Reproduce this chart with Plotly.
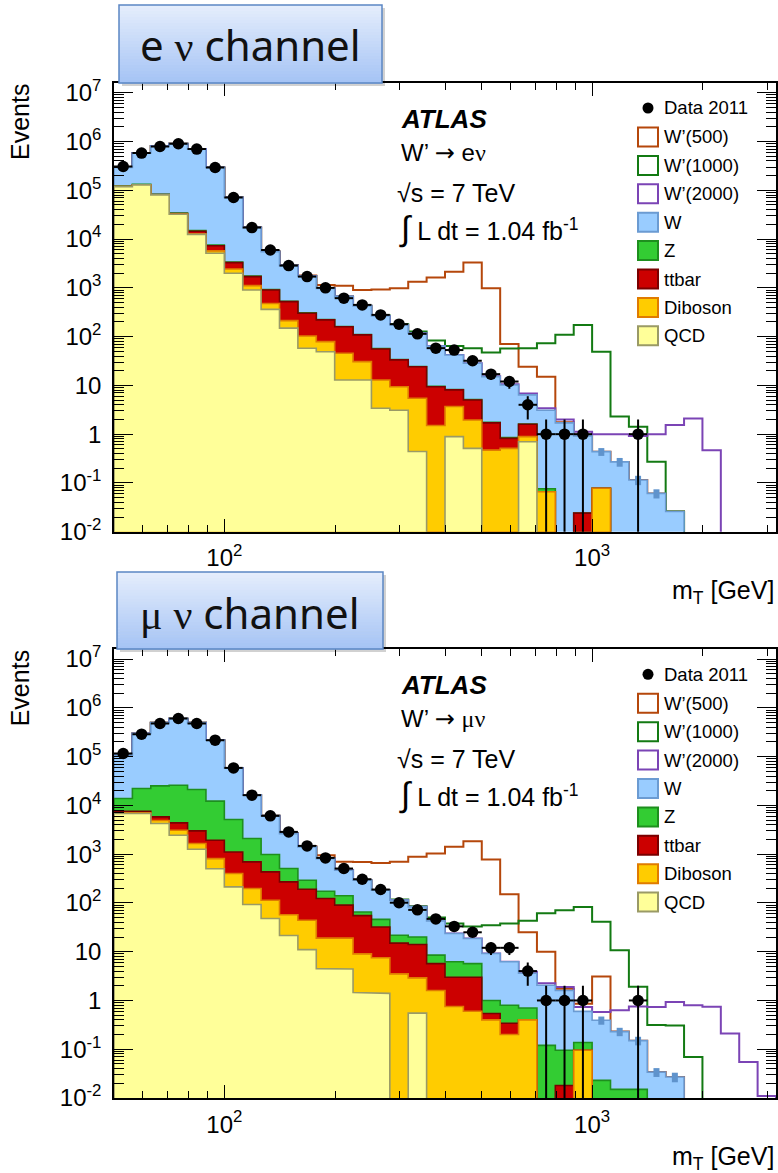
import numpy as np
import plotly.graph_objects as go

# ---------------------------------------------------------------------------
# Binning: log10 of the m_T bin edges (GeV)
MT_LOG_EDGES = [1.70, 1.75, 1.80, 1.85, 1.90, 1.95, 2.00, 2.05, 2.10, 2.15,
                2.20, 2.25, 2.30, 2.35, 2.40, 2.45, 2.50, 2.55, 2.60, 2.65,
                2.70, 2.75, 2.80, 2.85, 2.90, 2.95, 3.00, 3.05, 3.10, 3.15,
                3.20, 3.25, 3.30, 3.35, 3.40, 3.45, 3.50]

# ---------------------------------------------------------------------------
# e nu channel: events per bin
EV_DATA = [307000, 580000, 790000, 900000, 700000, 293000, 71000, 17200, 5980, 2860,
           1700, 1000, 614, 447, 279, 180, 114, 58, 53, 32,
           17, 12, 4, 1, 1, 1, 0, 0, 1, 0, 0, 0, 0, 0, 0, 0]
EV_QCD = [119000, 129000, 80500, 32300, 12500, 5120, 1990, 903, 362, 149,
          57.8, 49, 12.9, 12.9, 3.4, 3.1, 0.44, 0, 0.89, 0.51,
          0, 0, 0.70, 0, 0, 0, 0, 0, 0, 0, 0, 0, 0, 0, 0, 0]
EV_DIBOSON = [500, 500, 500, 300, 300, 600, 450, 207, 117, 64,
              45, 30, 32.8, 17.8, 9.5, 6.3, 5.0, 1.5, 2.8, 1.44,
              0.47, 0.51, 0.19, 0.066, 0, 0, 0.078, 0, 0, 0, 0, 0, 0, 0, 0, 0]
EV_TTBAR = [500, 500, 500, 800, 1700, 1600, 850, 590, 424, 309,
            199, 141, 114, 78, 43, 24, 18.6, 7.9, 4.4, 3.05,
            1.23, 0.31, 0.71, 0, 0, 0.024, 0, 0, 0, 0, 0, 0, 0, 0, 0, 0]
EV_Z = [1500, 2500, 1500, 900, 400, 200, 80, 35, 15, 8,
        5, 3, 2, 1.2, 0.8, 0.5, 0.3, 0.2, 0.15, 0.1,
        0.05, 0.03, 0.02, 0.01, 0, 0, 0, 0, 0, 0, 0, 0, 0, 0, 0, 0]
EV_W = [171500, 447500, 727000, 865700, 684900, 285500, 67600, 15460, 4610, 2330,
        1443, 754, 500, 317, 209, 140, 92.7, 54.4, 33.8, 23.3,
        13.4, 9.35, 4.78, 3.02, 1.7, 0.9, 0.36, 0.27, 0.115, 0.061,
        0.026, 0, 0, 0, 0, 0]
# MC statistical uncertainty on W, shown where it is visible
EV_W_STAT = [0, 0, 0, 0, 0, 0, 0, 0, 0, 0,
             0, 0, 0, 0, 0, 0, 0, 0, 0, 0,
             0, 0, 0, 0, 0, 0, 0.08, 0.055, 0.025, 0.013,
             0, 0, 0, 0, 0, 0]
# W' signals (stacked on top of the total background)
EV_WP500 = [0, 0, 0, 0, 0, 5, 10, 15, 20, 30,
            50, 173, 438, 473, 664, 810, 1223, 1556, 2108, 3272,
            969, 60, 17.6, 11.9, 0.05, 0, 0, 0, 0, 0, 0, 0, 0, 0, 0, 0]
EV_WP1000 = [0, 0, 0, 0, 0, 0, 0, 0, 0, 0,
             0, 0, 2, 3, 4, 6, 10, 19, 22, 29.6,
             31.9, 46.8, 51.6, 69.9, 108, 173, 48.6, 2.03, 1.3, 0.21,
             0, 0, 0, 0, 0, 0]
EV_WP2000 = [0, 0, 0, 0, 0, 0, 0, 0, 0, 0,
             0, 0, 0, 0, 0, 0, 0, 0, 0.1, 0.15,
             0.3, 0.35, 0.4, 0.3, 0.3, 0.2, 0.56, 0.73, 0.8, 0.94,
             1.52, 2.1, 0.47, 0, 0, 0]

# ---------------------------------------------------------------------------
# mu nu channel: events per bin
MV_DATA = [116000, 288000, 478000, 604000, 478000, 217000, 58700, 16200, 6100, 2860,
           1476, 838, 507, 306, 188, 101, 72, 47, 33, 25,
           12, 12, 4, 1, 1, 1, 0, 0, 1, 0, 0, 0, 0, 0, 0, 0]
MV_QCD = [6800, 6800, 4240, 2440, 1260, 500, 213, 93, 48, 21.5,
          11, 4.5, 4.4, 1.45, 1.4, 0, 0.55, 0, 0, 0,
          0, 0, 0, 0, 0, 0, 0, 0, 0, 0, 0, 0, 0, 0, 0, 0]
MV_DIBOSON = [200, 200, 660, 650, 390, 311, 187, 104, 65, 35.5,
              33, 14.5, 14.6, 7.55, 6.1, 3.5, 2.35, 1.6, 0.75, 0.6,
              0.4, 0.2, 0.4, 0, 0, 0.095, 0, 0, 0, 0, 0, 0, 0, 0, 0, 0]
MV_TTBAR = [590, 600, 910, 1280, 1350, 1119, 710, 496, 320, 213,
            147, 104, 71, 46, 24.5, 11.5, 11.1, 4.1, 2.25, 2.4,
            0.14, 0.14, 0, 0, 0.018, 0, 0, 0, 0, 0, 0, 0, 0, 0, 0, 0]
MV_Z = [6210, 14500, 19290, 21530, 18100, 10270, 4010, 1397, 547, 236,
        101, 50, 50, 10, 14, 6.7, 6, 2.8, 3.2, 2.7,
        0.46, 0.46, 0.3, 0.12, 0.077, 0.042, 0.023, 0.015, 0.015, 0,
        0, 0, 0, 0, 0, 0]
MV_W = [93200, 274900, 466900, 574100, 470900, 204800, 53580, 14110, 5120, 2134,
        1118, 638, 329, 227, 136, 92.3, 63, 34.3, 17.4, 12.9,
        8.2, 5.4, 2.9, 1.93, 1.5, 0.46, 0.37, 0.215, 0.135, 0.034,
        0.027, 0, 0, 0, 0, 0]
MV_W_STAT = [0, 0, 0, 0, 0, 0, 0, 0, 0, 0,
             0, 0, 0, 0, 0, 0, 0, 0, 0, 0,
             0, 0, 0, 0, 0, 0, 0.075, 0.045, 0.03, 0.007,
             0.006, 0, 0, 0, 0, 0]
MV_WP500 = [0, 0, 0, 0, 0, 5, 10, 15, 20, 30,
            40, 139, 231, 398, 478, 581, 797, 987, 1386, 1821,
            771, 144, 21.4, 7.95, 0.15, 0.26, 2.71, 0, 0, 0, 0, 0, 0, 0, 0, 0]
MV_WP1000 = [0, 0, 0, 0, 0, 0, 0, 0, 0, 0,
             0, 0, 0, 0, 0, 3, 2, 7.2, 14.4, 14.4,
             25.8, 31.8, 39.4, 59, 69.4, 82.3, 40.6, 10.5, 1.75, 0.28,
             0.28, 0.069, 0, 0, 0, 0]
MV_WP2000 = [0, 0, 0, 0, 0, 0, 0, 0, 0, 0,
             0, 0, 0, 0, 0, 0, 0, 0, 0, 0,
             0, 0, 0.3, 0.2, 0.3, 0.14, 0.19, 0.4, 0.6, 0.7,
             0.9, 0.8, 0.74, 0.21, 0.055, 0.011]

# ---------------------------------------------------------------------------
# Styling
C_W, C_W_LINE, C_W_ERR = "#99ccff", "#6b9bd2", "#5f93cc"
C_Z, C_Z_LINE = "#33cc33", "#1e8f1e"
C_TT, C_TT_LINE = "#cc0000", "#7a0000"
C_DB, C_DB_LINE = "#ffcc00", "#e07b00"
C_QCD, C_QCD_LINE = "#ffff99", "#9a9a66"
C_WP500, C_WP1000, C_WP2000 = "#b5470b", "#137a13", "#7b44b5"
FONT = "Liberation Sans, Arial, Helvetica, sans-serif"
SERIF = "Liberation Serif, Times New Roman, serif"

FIG_W, FIG_H = 778, 1173
ML, MR, MT, MB = 114, 2, 83, 75
PW, PH = FIG_W - ML - MR, FIG_H - MT - MB
FLOOR = 1e-6


def fx(px):
    return (px - ML) / PW


def fy(py):
    return (FIG_H - MB - py) / PH


edges = np.power(10.0, MT_LOG_EDGES)
centers = np.power(10.0, 0.5 * (np.array(MT_LOG_EDGES[:-1]) + np.array(MT_LOG_EDGES[1:])))


def step_path(vals):
    xs, ys = [edges[0]], [FLOOR]
    for i, v in enumerate(vals):
        v = v if v > 0 else FLOOR
        xs += [edges[i], edges[i + 1]]
        ys += [v, v]
    xs.append(edges[-1])
    ys.append(FLOOR)
    return xs, ys


fig = go.Figure()

channels = [
    dict(ax="", data=EV_DATA, qcd=EV_QCD, db=EV_DIBOSON, tt=EV_TTBAR, z=EV_Z, w=EV_W,
         wstat=EV_W_STAT,
         sig=[(EV_WP500, C_WP500), (EV_WP1000, C_WP1000), (EV_WP2000, C_WP2000)]),
    dict(ax="2", data=MV_DATA, qcd=MV_QCD, db=MV_DIBOSON, tt=MV_TTBAR, z=MV_Z, w=MV_W,
         wstat=MV_W_STAT,
         sig=[(MV_WP500, C_WP500), (MV_WP1000, C_WP1000), (MV_WP2000, C_WP2000)]),
]

for ch in channels:
    xa, ya = "x" + ch["ax"], "y" + ch["ax"]
    layers = [ch["qcd"], ch["db"], ch["tt"], ch["z"], ch["w"]]
    cum = np.cumsum(np.array(layers, dtype=float), axis=0)
    total = cum[-1]

    # signal hypotheses drawn on top of the total background
    for sig, col in ch["sig"]:
        xs, ys = step_path(total + np.array(sig, dtype=float))
        fig.add_trace(go.Scatter(x=xs, y=ys, xaxis=xa, yaxis=ya, mode="lines",
                                 line=dict(color=col, width=2), hoverinfo="skip",
                                 showlegend=False))

    # background stack, from the top layer down
    styles = [(C_QCD, C_QCD_LINE), (C_DB, C_DB_LINE), (C_TT, C_TT_LINE),
              (C_Z, C_Z_LINE), (C_W, C_W_LINE)]
    for i in range(4, -1, -1):
        xs, ys = step_path(cum[i])
        fill, line = styles[i]
        fig.add_trace(go.Scatter(x=xs, y=ys, xaxis=xa, yaxis=ya, mode="lines",
                                 fill="toself", fillcolor=fill,
                                 line=dict(color=line, width=1.6),
                                 hoverinfo="skip", showlegend=False))

    # MC statistical uncertainty markers on the W prediction
    wstat = np.array(ch["wstat"], dtype=float)
    sel = wstat > 0
    fig.add_trace(go.Scatter(
        x=centers[sel], y=total[sel], xaxis=xa, yaxis=ya, mode="markers",
        marker=dict(size=1, color="rgba(0,0,0,0)"),
        error_y=dict(type="data", array=wstat[sel], color=C_W_ERR, thickness=6, width=0),
        hoverinfo="skip", showlegend=False))

    # data points with Poisson errors
    n = np.array(ch["data"], dtype=float)
    keep = n > 0
    err = np.sqrt(n)
    err_lo = np.minimum(err, n * 0.99999)
    fig.add_trace(go.Scatter(
        x=centers[keep], y=n[keep], xaxis=xa, yaxis=ya, mode="markers",
        marker=dict(color="black", size=11.5),
        error_y=dict(type="data", symmetric=False, array=err[keep],
                     arrayminus=err_lo[keep], color="black", thickness=2, width=0),
        error_x=dict(type="data", symmetric=False,
                     array=(edges[1:] - centers)[keep],
                     arrayminus=(centers - edges[:-1])[keep],
                     color="black", thickness=2, width=0),
        hoverinfo="skip", showlegend=False))

# empty traces that register the mirrored tick axes (top / right)
for xa, ya in [("x", "y3"), ("x3", "y"), ("x2", "y4"), ("x4", "y2")]:
    fig.add_trace(go.Scatter(x=[], y=[], xaxis=xa, yaxis=ya, mode="markers",
                             hoverinfo="skip", showlegend=False))

# ---------------------------------------------------------------------------
# Axes
y_major = [10.0 ** e for e in range(-2, 8)]
y_text = ["10<sup>-2</sup>", "10<sup>-1</sup>", "1", "10", "10<sup>2</sup>",
          "10<sup>3</sup>", "10<sup>4</sup>", "10<sup>5</sup>", "10<sup>6</sup>",
          "10<sup>7</sup>"]
y_minor = [m * 10.0 ** e for e in range(-2, 7) for m in range(2, 10)] + [2e7]
x_minor = [60, 70, 80, 90, 200, 300, 400, 500, 600, 700, 800, 900, 2000, 3000]

tick_font = dict(family=FONT, size=24, color="black")


def x_axis(**kw):
    d = dict(type="log", range=[1.7, 3.5], showgrid=False, zeroline=False,
             showline=True, linecolor="black", linewidth=1.5, mirror=True,
             ticks="inside", ticklen=13, tickwidth=1.2, tickcolor="black",
             tickmode="array", tickvals=[100, 1000],
             ticktext=["10<sup>2</sup>", "10<sup>3</sup>"],
             tickfont=tick_font, ticklabelstandoff=4,
             minor=dict(tickmode="array", tickvals=x_minor, ticks="inside",
                        ticklen=7, tickwidth=1.2, tickcolor="black", showgrid=False))
    d.update(kw)
    return d


def y_axis(**kw):
    d = dict(type="log", range=[-2, 7.2], showgrid=False, zeroline=False,
             showline=True, linecolor="black", linewidth=1.5, mirror=True,
             ticks="inside", ticklen=19, tickwidth=1.2, tickcolor="black",
             tickmode="array", tickvals=y_major, ticktext=y_text,
             tickfont=tick_font, ticklabelstandoff=6,
             minor=dict(tickmode="array", tickvals=y_minor, ticks="inside",
                        ticklen=10, tickwidth=1.2, tickcolor="black", showgrid=False))
    d.update(kw)
    return d


top_dom = [fy(531.7), 1.0]
bot_dom = [0.0, fy(649.3)]
fig.update_layout(
    width=FIG_W, height=FIG_H,
    margin=dict(l=ML, r=MR, t=MT, b=MB, autoexpand=False),
    paper_bgcolor="white", plot_bgcolor="white",
    showlegend=False,
    xaxis=x_axis(domain=[0, 1], anchor="y"),
    yaxis=y_axis(domain=top_dom, anchor="x"),
    xaxis2=x_axis(domain=[0, 1], anchor="y2"),
    yaxis2=y_axis(domain=bot_dom, anchor="x2"),
    # mirrored ticks on the top and right frame edges
    xaxis3=x_axis(overlaying="x", anchor="y", side="top", showticklabels=False,
                  showline=False),
    yaxis3=y_axis(overlaying="y", anchor="x", side="right", showticklabels=False,
                  showline=False),
    xaxis4=x_axis(overlaying="x2", anchor="y2", side="top", showticklabels=False,
                  showline=False),
    yaxis4=y_axis(overlaying="y2", anchor="x2", side="right", showticklabels=False,
                  showline=False),
)

shapes = []
annotations = []


def text(px, py, s, size, xanchor="left", **kw):
    annotations.append(dict(x=fx(px), y=fy(py), xref="paper", yref="paper", text=s,
                            showarrow=False, xanchor=xanchor, yanchor="middle",
                            font=dict(family=kw.pop("family", FONT), size=size,
                                      color=kw.pop("color", "black")), **kw))


def rect(x0, y0, x1, y1, fill, line=None, lw=1.5):
    shapes.append(dict(type="rect", xref="paper", yref="paper",
                       x0=fx(x0), x1=fx(x1), y0=fy(y1), y1=fy(y0),
                       fillcolor=fill, layer="above",
                       line=dict(color=line or fill, width=lw if line else 0)))


def lerp_color(c0, c1, t):
    a = [int(c0[i:i + 2], 16) for i in (1, 3, 5)]
    b = [int(c1[i:i + 2], 16) for i in (1, 3, 5)]
    return "rgb(%d,%d,%d)" % tuple(round(a[k] + (b[k] - a[k]) * t) for k in range(3))


def serif(s):
    return "<span style='font-family:%s'>%s</span>" % (SERIF, s)


ARROW = "<span style='font-family:DejaVu Sans'>\u2192</span>"

panels = [
    dict(dy=0.0,
         channel="e " + serif("\u03bd") + " channel",
         decay="W\u2019 " + ARROW + " e" + serif("\u03bd"),
         box=(119, 5, 382, 83)),
    dict(dy=566.3,
         channel=serif("\u03bc") + " " + serif("\u03bd") + " channel",
         decay="W\u2019 " + ARROW + " " + serif("\u03bc\u03bd"),
         box=(117, 572, 383, 649)),
]

legend_rows = [
    ("W\u2019(500)", "white", C_WP500),
    ("W\u2019(1000)", "white", C_WP1000),
    ("W\u2019(2000)", "white", C_WP2000),
    ("W", C_W, C_W_LINE),
    ("Z", C_Z, C_Z_LINE),
    ("ttbar", C_TT, C_TT_LINE),
    ("Diboson", C_DB, C_DB_LINE),
    ("QCD", C_QCD, C_QCD_LINE),
]

for p in panels:
    dy = p["dy"]
    # channel banner with a vertical gradient and soft shadow
    x0, y0, x1, y1 = p["box"]
    rect(x0 + 3, y0 + 3, x1 + 3, y1 + 3, "rgba(0,0,0,0.18)")
    nstrip = 26
    for i in range(nstrip):
        sy0 = y0 + (y1 - y0) * i / nstrip
        sy1 = y0 + (y1 - y0) * (i + 1) / nstrip + 0.6
        rect(x0, sy0, x1, sy1, lerp_color("#e4edfc", "#a6c4f5", i / (nstrip - 1)))
    rect(x0, y0, x1, y1, "rgba(0,0,0,0)", line="#5b86c4", lw=1.5)
    text((x0 + x1) / 2, y0 + 40, p["channel"], 42, xanchor="center",
         family="Noto Sans, Open Sans, sans-serif", color="#111111")

    # axis titles
    text(20, 122 + dy, "Events", 25, xanchor="center", textangle=-90)
    text(776, 592 + dy, "m<sub>T</sub> [GeV]", 25, xanchor="right")

    # ATLAS labels
    text(399, 119 + dy, "<b><i>ATLAS</i></b>", 26)
    text(399, 153 + dy, p["decay"], 24)
    text(395, 193 + dy, "\u221as = 7 TeV", 25)
    text(397, 228 + dy,
         "<span style='font-size:34px'>\u222b</span> L dt = 1.04 fb<sup>-1</sup>", 25)

    # legend
    shapes.append(dict(type="circle", xref="paper", yref="paper",
                       x0=fx(642.5), x1=fx(653.5), y0=fy(113.5 + dy), y1=fy(102.5 + dy),
                       fillcolor="black", line=dict(color="black", width=0), layer="above"))
    text(662, 108 + dy, "Data 2011", 18.5)
    for i, (label, fill, line) in enumerate(legend_rows):
        cy = 137 + 28.4 * i + dy
        rect(638, cy - 9.5, 658, cy + 9.5, fill, line=line, lw=2)
        text(662, cy, label, 18.5)

fig.update_layout(shapes=shapes, annotations=annotations)
fig.write_html("out.html")
